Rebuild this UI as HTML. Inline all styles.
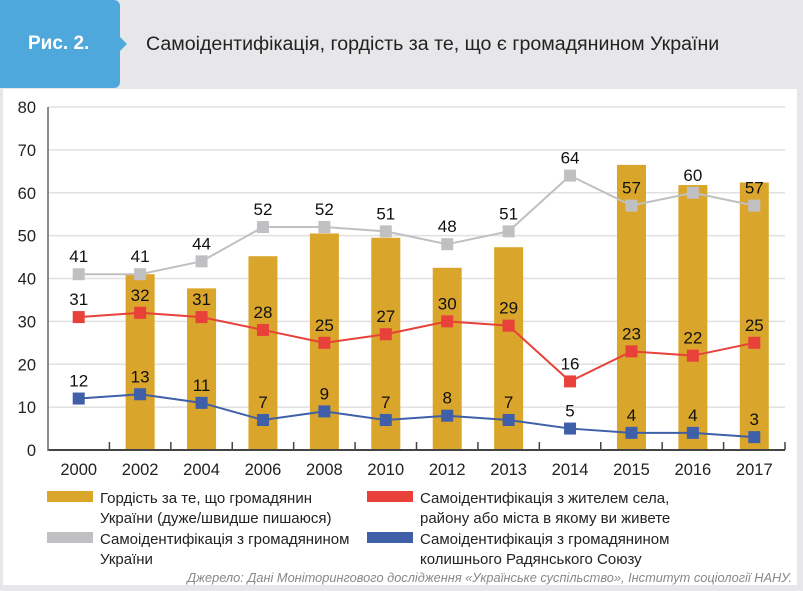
<!DOCTYPE html>
<html><head><meta charset="utf-8"><style>
body{margin:0;width:803px;height:591px;background:#e7e7e9;font-family:"Liberation Sans",sans-serif;position:relative;overflow:hidden}
#hdr{position:absolute;left:0;top:0;width:803px;height:88px;background:#e7e7e9}
#tab{position:absolute;left:0;top:0;width:120px;height:88px;background:#4ea8dc;border-radius:0 6px 6px 0}
#tab:after{content:"";position:absolute;right:-7px;top:37px;border-left:7px solid #4ea8dc;border-top:7px solid transparent;border-bottom:7px solid transparent}
#tab span{position:absolute;left:28px;top:33px;color:#fff;font-weight:bold;font-size:19px}
#title{position:absolute;left:146px;top:33px;font-size:19.6px;color:#222}
#panel{position:absolute;left:3px;top:89px;width:794px;height:496px;background:#fff}
svg text{font-family:"Liberation Sans",sans-serif}
</style></head><body>
<div id="hdr">
<div id="tab"><span>Рис. 2.</span></div>
<div id="title">Самоідентифікація, гордість за те, що є громадянином України</div>
</div>
<div id="panel"></div>
<svg id="chart" width="803" height="591" style="position:absolute;left:0;top:0"></svg>
<script>
const categories=["2000","2002","2004","2006","2008","2010","2012","2013","2014","2015","2016","2017"];
const pride=[null,41,37.7,45.2,50.5,49.5,42.5,47.3,null,66.5,61.8,62.4];
const citizen=[41,41,44,52,52,51,48,51,64,57,60,57];
const village=[31,32,31,28,25,27,30,29,16,23,22,25];
const soviet=[12,13,11,7,9,7,8,7,5,4,4,3];
const yTicks=[0,10,20,30,40,50,60,70,80];
const NS="http://www.w3.org/2000/svg";
const svg=document.getElementById('chart');
const x0=48,x1=785,y0=450,y80=107;
const step=(x1-x0)/categories.length;
const xc=i=>x0+step*(i+0.5);
const ys=v=>y0-(v/80)*(y0-y80);
function mk(t,a,p){const e=document.createElementNS(NS,t);for(const k in a)e.setAttribute(k,a[k]);(p||svg).appendChild(e);return e;}
yTicks.forEach(v=>{
 if(v>0){const g=mk('line',{x1:x0,x2:x1,y1:ys(v),y2:ys(v),stroke:'#e0e0e0','stroke-width':1.5});
 
 }
 const t=mk('text',{x:36,y:ys(v)+6,'text-anchor':'end','font-size':16.5,fill:'#222'});t.textContent=v;
 
 
});
pride.forEach((v,i)=>{if(v==null)return;
 const r=mk('rect',{x:xc(i)-14.5,y:ys(v),width:29,height:y0-ys(v),fill:'#d9a52a'});
 
 
});
const ax=mk('line',{x1:x0,x2:x1,y1:y0,y2:y0,stroke:'#444','stroke-width':2});


const ay=mk('line',{x1:x0,x2:x0,y1:y80,y2:y0+1,stroke:'#666','stroke-width':1.5});


for(let i=1;i<=categories.length;i++){const tk=mk('line',{x1:x0+step*i,x2:x0+step*i,y1:y0-8,y2:y0,stroke:'#444','stroke-width':1.5});
 
 }
categories.forEach((c,i)=>{const t=mk('text',{x:xc(i),y:475,'text-anchor':'middle','font-size':16.5,fill:'#222'});t.textContent=c;
 
 });
function series(arr,color,name){
 const pts=arr.map((v,i)=>xc(i)+','+ys(v)).join(' ');
 const l=mk('polyline',{points:pts,fill:'none',stroke:color,'stroke-width':2});
 
 
 arr.forEach((v,i)=>{
  const m=mk('rect',{x:xc(i)-6,y:ys(v)-6,width:12,height:12,fill:color});
  
  
  const t=mk('text',{x:xc(i),y:ys(v)-12,'text-anchor':'middle','font-size':17,fill:'#111'});t.textContent=v;
  
  
 });
}
series(citizen,'#c0c0c2','citizen');
series(village,'#e8413a','village');
series(soviet,'#3f5fa8','soviet');
const leg=[[47,490,'#d9a52a',['Гордість за те, що громадянин','України (дуже/швидше пишаюся)'],'legend-pride'],
[47,531,'#c0c0c2',['Самоідентифікація з громадянином','України'],'legend-citizen'],
[367,490,'#e8413a',['Самоідентифікація з жителем села,','району або міста в якому ви живете'],'legend-village'],
[367,531,'#3f5fa8',['Самоідентифікація з громадянином','колишнього Радянського Союзу'],'legend-soviet']];
leg.forEach(L=>{
 const g=mk('g',{});
 
 
 mk('rect',{x:L[0],y:L[1]+1,width:46,height:11,fill:L[2]},g);
 L[3].forEach((s,k)=>{const t=mk('text',{x:L[0]+53,y:L[1]+13+k*20,'font-size':15,fill:'#222'},g);t.textContent=s;});
});
const src=mk('text',{x:792,y:582,'text-anchor':'end','font-size':12.8,'font-style':'italic',fill:'#888'});
src.textContent='Джерело: Дані Моніторингового дослідження «Українське суспільство», Інститут соціології НАНУ.';


</script>
</body></html>
